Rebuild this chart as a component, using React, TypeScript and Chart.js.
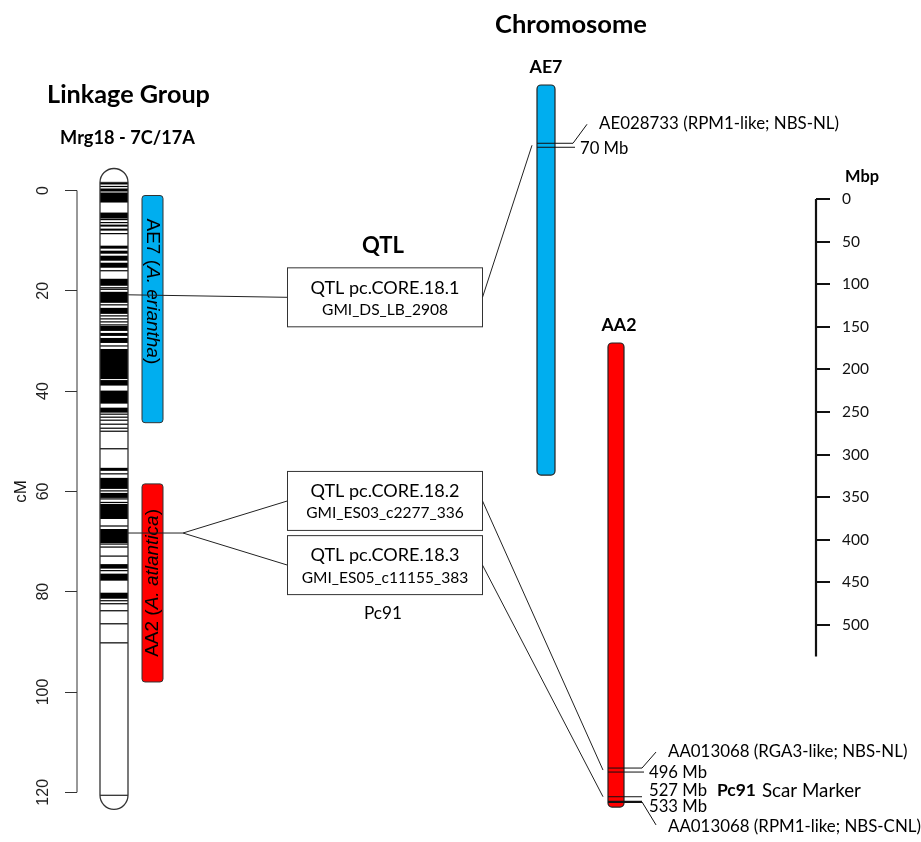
import React, { useEffect, useRef } from "react";
import { Chart, registerables } from "chart.js";
Chart.register(...registerables);

// ---------------- data ----------------
const CM_TICKS = [0, 20, 40, 60, 80, 100, 120];
const MBP_TICKS = [0, 50, 100, 150, 200, 250, 300, 350, 400, 450, 500];
const MBP_AXIS_END = 537;

const LG_TITLE = "Linkage Group";
const LG_NAME = "Mrg18 - 7C/17A";
const LG_RANGE = [-1.6, 120.6];
// dense marker blocks (cM start, cM end)
const LG_BANDS: [number, number][] = [
  [-1.6, -1.2], [-0.4, 0.2], [0.4, 2.4], [4.4, 5.6], [6.8, 7.2], [7.6, 8.0],
  [11.0, 11.6], [12.0, 12.6], [13.0, 14.0], [14.4, 15.4], [17.6, 19.0],
  [20.2, 22.4], [23.4, 24.6], [27.0, 28.0], [28.4, 29.0], [29.4, 30.4],
  [31.6, 37.6], [37.8, 38.9], [39.9, 42.5], [43.3, 44.3], [55.3, 55.9],
  [57.3, 59.5], [60.3, 61.3], [62.5, 65.5], [67.5, 70.3], [74.5, 75.4],
  [76.4, 77.8], [80.2, 81.4],
];
// single markers (cM)
const LG_LINES = [
  -0.8, 5.8, 6.4, 8.6, 16.0, 19.4, 19.7, 22.8, 25.0, 25.6, 26.2, 26.8, 31.0,
  44.6, 45.2, 45.8, 46.6, 47.4, 48.0, 51.5, 56.5, 59.9, 61.5, 62.2, 66.9,
  70.5, 71.1, 72.9, 75.8, 81.8, 82.4, 83.8, 86.4, 90.2,
];

const HOMEO_PREFIX = ["AE7 (", "AA2 ("];
const HOMEO_SPECIES = ["A. eriantha", "A. atlantica"];
const HOMEO_START = [1.0, 58.5];
const HOMEO_END = [46.3, 98.0];
const HOMEO_COLORS = ["#00AEEF", "#FF0000"];

const QTL_TITLE = "QTL";
const QTL_NAMES = ["QTL pc.CORE.18.1", "QTL pc.CORE.18.2", "QTL pc.CORE.18.3"];
const QTL_MARKERS = ["GMI_DS_LB_2908", "GMI_ES03_c2277_336", "GMI_ES05_c11155_383"];
const QTL_CM = [20.8, 68.3, 68.3];
const QTL_BOX_CM = [21.3, 61.9, 74.7];
const QTL_CHROM = [0, 1, 1];
const QTL_TARGET_MB = [70, 496, 527];
const QTL_NOTE = "Pc91";

const CHROM_TITLE = "Chromosome";
const CHROM_NAMES = ["AE7", "AA2"];
const CHROM_LEN_MB = [453, 539];
const CHROM_COLORS = ["#00AEEF", "#FF0000"];

const GENE_CHROM = [0, 1, 1, 1];
const GENE_MB = [70, 496, 527, 533];
const GENE_MB_LABELS = ["70 Mb", "496 Mb", "527 Mb", "533 Mb"];
const GENE_NAMES = [
  "AE028733 (RPM1-like; NBS-NL)",
  "AA013068 (RGA3-like; NBS-NL)",
  "",
  "AA013068 (RPM1-like; NBS-CNL)",
];
const SCAR_NAME = "Pc91";
const SCAR_TEXT = "Scar Marker";

// ---------------- layout ----------------
const W = 921;
const H = 842;
const CM_ZERO_PX = 190.5;
const CM_PX = 5.015;
const MB_ZERO_PX = 199;
const MB_PX = 0.852;
const CHROM_TOP_PX = [85, 343];
const CHROM_MB_PX = 0.861;
const CHROM_SCALES = ["yAE7", "yAA2"];

const LAYOUT = {
  lgX0: 100, lgX1: 128,
  homeoX0: 142, homeoX1: 163,
  forkX: 183,
  boxX0: 287.5, boxX1: 482.5, boxHcm: 11.76,
  chromX0: [537, 608], chromX1: [555, 624],
  geneStyle: ["double", "double", "single", "thick"],
  geneNameDy: [-22, -19, 0, 25],
  geneMbDy: [3, 3, -6, 5],
};

const CAL = "Lato, 'Open Sans', sans-serif";
const ARI = "'Liberation Sans', Arial, sans-serif";

function fitSize(ctx: any, s: string, w: number, bold: boolean, fam: string) {
  ctx.font = `${bold ? "bold " : ""}100px ${fam}`;
  return (100 * w) / ctx.measureText(s).width;
}
function txt(ctx: any, s: string, x: number, y: number, size: number, o: any = {}) {
  ctx.font = `${o.italic ? "italic " : ""}${o.bold ? "bold " : ""}${size}px ${o.fam || CAL}`;
  ctx.textAlign = o.align || "center";
  ctx.textBaseline = "middle";
  ctx.fillStyle = o.color || "#000";
  ctx.fillText(s, x, y);
  return ctx.measureText(s).width;
}
function runText(ctx: any, segs: any[], size: number, cx: number, cy: number, angle: number, centered: boolean) {
  ctx.save();
  ctx.translate(cx, cy);
  ctx.rotate(angle);
  ctx.textBaseline = "middle";
  ctx.textAlign = "left";
  ctx.fillStyle = "#000";
  let total = 0;
  for (const s of segs) {
    ctx.font = `${s.italic ? "italic " : ""}${size}px ${ARI}`;
    total += ctx.measureText(s.t).width;
  }
  let pos = centered ? -total / 2 : 0;
  for (const s of segs) {
    ctx.font = `${s.italic ? "italic " : ""}${size}px ${ARI}`;
    ctx.fillText(s.t, pos, 0);
    pos += ctx.measureText(s.t).width;
  }
  ctx.restore();
}
function line(ctx: any, x1: number, y1: number, x2: number, y2: number, w = 1, c = "#222") {
  ctx.beginPath();
  ctx.moveTo(x1, y1);
  ctx.lineTo(x2, y2);
  ctx.lineWidth = w;
  ctx.strokeStyle = c;
  ctx.stroke();
}

const diagramPlugin = {
  id: "diagram",
  afterDraw(chart: any) {
    const ctx = chart.ctx;
    const sx = chart.scales.x;
    const scm = chart.scales.y;
    const smb = chart.scales.y2;
    const X = (v: number) => sx.getPixelForValue(v);
    const Y = (v: number) => scm.getPixelForValue(v);
    const YM = (v: number) => smb.getPixelForValue(v);
    const YC = (i: number, v: number) => chart.scales[CHROM_SCALES[i]].getPixelForValue(v);
    ctx.save();

    // ---- linkage group bar ----
    const x0 = X(LAYOUT.lgX0), x1 = X(LAYOUT.lgX1);
    const r = (x1 - x0) / 2, cx = (x0 + x1) / 2;
    const yt = Y(LG_RANGE[0]), yb = Y(LG_RANGE[1]);
    const barPath = () => {
      ctx.beginPath();
      ctx.moveTo(x0, yt);
      ctx.arc(cx, yt, r, Math.PI, 0);
      ctx.lineTo(x1, yb);
      ctx.arc(cx, yb, r, 0, Math.PI);
      ctx.closePath();
    };
    barPath();
    ctx.fillStyle = "#fff";
    ctx.fill();
    ctx.fillStyle = "#000";
    for (const [a, b] of LG_BANDS) {
      const ya = Y(a), yb2 = Y(b);
      ctx.fillRect(x0, ya, x1 - x0, Math.max(1.2, yb2 - ya));
    }
    for (const v of LG_LINES) ctx.fillRect(x0, Y(v) - 0.6, x1 - x0, 1.2);
    barPath();
    ctx.lineWidth = 1.3;
    ctx.strokeStyle = "#333";
    ctx.stroke();
    line(ctx, x0, yt, x1, yt, 1.3, "#333");
    line(ctx, x0, yb, x1, yb, 1.3, "#333");

    // ---- homeologous chromosome blocks ----
    const hx0 = X(LAYOUT.homeoX0), hx1 = X(LAYOUT.homeoX1);
    for (let i = 0; i < HOMEO_START.length; i++) {
      const ya = Y(HOMEO_START[i]), yz = Y(HOMEO_END[i]);
      ctx.beginPath();
      ctx.roundRect(hx0, ya, hx1 - hx0, yz - ya, 3);
      ctx.fillStyle = HOMEO_COLORS[i];
      ctx.fill();
      ctx.lineWidth = 1;
      ctx.strokeStyle = "#333";
      ctx.stroke();
      const segs = [{ t: HOMEO_PREFIX[i] }, { t: HOMEO_SPECIES[i], italic: true }, { t: ")" }];
      if (i === 0) runText(ctx, segs, 19, (hx0 + hx1) / 2, ya + 23, Math.PI / 2, false);
      else runText(ctx, segs, 19, (hx0 + hx1) / 2, (ya + yz) / 2, -Math.PI / 2, true);
    }

    // ---- QTL connectors from linkage group ----
    const bx0 = X(LAYOUT.boxX0), bx1 = X(LAYOUT.boxX1), fx = X(LAYOUT.forkX);
    const done: number[] = [];
    for (let i = 0; i < QTL_CM.length; i++) {
      const same = QTL_CM.map((v, k) => (v === QTL_CM[i] ? k : -1)).filter((k) => k >= 0);
      if (done.includes(QTL_CM[i])) continue;
      done.push(QTL_CM[i]);
      const y = Y(QTL_CM[i]);
      if (same.length === 1) {
        line(ctx, x1, y, bx0, Y(QTL_BOX_CM[i]));
      } else {
        line(ctx, x1, y, fx, y);
        for (const k of same) line(ctx, fx, y, bx0, Y(QTL_BOX_CM[k]));
      }
    }

    // ---- QTL boxes ----
    const s1 = fitSize(ctx, QTL_NAMES[0], 149, false, CAL);
    const s2 = fitSize(ctx, QTL_MARKERS[0], 126, false, CAL);
    const bcx = (bx0 + bx1) / 2;
    for (let i = 0; i < QTL_NAMES.length; i++) {
      const yc = Y(QTL_BOX_CM[i]);
      const ya = Y(QTL_BOX_CM[i] - LAYOUT.boxHcm / 2), yz = Y(QTL_BOX_CM[i] + LAYOUT.boxHcm / 2);
      ctx.fillStyle = "#fff";
      ctx.fillRect(bx0, ya, bx1 - bx0, yz - ya);
      ctx.lineWidth = 1;
      ctx.strokeStyle = "#333";
      ctx.strokeRect(bx0, ya, bx1 - bx0, yz - ya);
      txt(ctx, QTL_NAMES[i], bcx, yc - 9.5, s1);
      txt(ctx, QTL_MARKERS[i], bcx, yc + 12.5, s2);
      // connector to chromosome
      const c = QTL_CHROM[i];
      line(ctx, bx1, yc, X(LAYOUT.chromX0[c]) - 5, YC(c, QTL_TARGET_MB[i]));
    }
    const lastBottom = Y(QTL_BOX_CM[2] + LAYOUT.boxHcm / 2);
    txt(ctx, QTL_NOTE, bcx - 2, lastBottom + 19, fitSize(ctx, QTL_NOTE, 38, false, CAL));
    txt(ctx, QTL_TITLE, bcx - 2, Y(QTL_BOX_CM[0] - LAYOUT.boxHcm / 2) - 22, fitSize(ctx, QTL_TITLE, 42, true, CAL), { bold: true });

    // ---- chromosomes ----
    const cs = fitSize(ctx, "AA2", 35, true, CAL);
    for (let c = 0; c < CHROM_NAMES.length; c++) {
      const cx0 = X(LAYOUT.chromX0[c]), cx1 = X(LAYOUT.chromX1[c]);
      const ya = YC(c, 0), yz = YC(c, CHROM_LEN_MB[c]);
      ctx.beginPath();
      ctx.roundRect(cx0, ya, cx1 - cx0, yz - ya, 4);
      ctx.fillStyle = CHROM_COLORS[c];
      ctx.fill();
      ctx.lineWidth = 1.2;
      ctx.strokeStyle = "#222";
      ctx.stroke();
      txt(ctx, CHROM_NAMES[c], (cx0 + cx1) / 2 + (c === 1 ? 3 : 0), ya - 18, cs, { bold: true });
    }

    // ---- gene markers ----
    const gs = fitSize(ctx, GENE_NAMES[0], 240, false, CAL);
    const ms = fitSize(ctx, GENE_MB_LABELS[1], 58, false, CAL);
    const ps = fitSize(ctx, SCAR_NAME, 39, true, CAL);
    const ss = fitSize(ctx, SCAR_TEXT, 99, false, CAL);
    for (let g = 0; g < GENE_MB.length; g++) {
      const c = GENE_CHROM[g];
      const cx0 = X(LAYOUT.chromX0[c]), cx1 = X(LAYOUT.chromX1[c]);
      const y = YC(c, GENE_MB[g]);
      const xe = cx1 + 18;
      const st = LAYOUT.geneStyle[g];
      if (st === "double") {
        line(ctx, cx0, y - 2, xe, y - 2, 1, "#111");
        line(ctx, cx0, y + 2, xe + 2, y + 2, 1, "#111");
      } else {
        line(ctx, cx0, y, xe, y, st === "thick" ? 2.2 : 1, "#111");
      }
      const dy = LAYOUT.geneNameDy[g];
      if (GENE_NAMES[g]) {
        const ly = y + (dy < 0 ? -2 : 0);
        line(ctx, xe, ly, xe + 14, y + dy + (dy < 0 ? 1 : -2), 1, "#111");
        txt(ctx, GENE_NAMES[g], cx1 + 44, y + dy, gs, { align: "left" });
      }
      const my = y + LAYOUT.geneMbDy[g];
      const mw = txt(ctx, GENE_MB_LABELS[g], cx1 + 25, my, ms, { align: "left" });
      if (!GENE_NAMES[g]) {
        const px = cx1 + 25 + mw + 10;
        const pw = txt(ctx, SCAR_NAME, px, my, ps, { align: "left", bold: true });
        txt(ctx, SCAR_TEXT, px + pw + 6, my, ss, { align: "left" });
      }
    }

    // ---- axes lines ----
    line(ctx, scm.right, Y(CM_TICKS[0]), scm.right, Y(CM_TICKS[CM_TICKS.length - 1]), 1, "#333");
    line(ctx, smb.left, YM(0), smb.left, YM(MBP_AXIS_END), 2.2, "#111");

    // ---- titles ----
    txt(ctx, LG_TITLE, 128.5, 95, fitSize(ctx, LG_TITLE, 163, true, CAL), { bold: true });
    txt(ctx, LG_NAME, 127.5, 138, fitSize(ctx, LG_NAME, 135, true, CAL), { bold: true });
    txt(ctx, CHROM_TITLE, 571, 25, fitSize(ctx, CHROM_TITLE, 152, true, CAL), { bold: true });
    txt(ctx, "Mbp", smb.left + 46, 177, fitSize(ctx, "Mbp", 34, true, CAL), { bold: true });
    ctx.save();
    ctx.translate(21, Y(60));
    ctx.rotate(-Math.PI / 2);
    txt(ctx, "cM", 0, 0, 17, { fam: ARI, color: "#111" });
    ctx.restore();

    ctx.restore();
  },
};

export default function App() {
  const ref = useRef<HTMLCanvasElement>(null);
  useEffect(() => {
    const canvas = ref.current as HTMLCanvasElement;
    const chromScale = (i: number) => ({
      type: "linear",
      axis: "y",
      position: "left",
      display: false,
      reverse: true,
      min: -CHROM_TOP_PX[i] / CHROM_MB_PX,
      max: (H - CHROM_TOP_PX[i]) / CHROM_MB_PX,
    });
    const chart = new Chart(canvas, {
      type: "scatter",
      data: { datasets: [] },
      options: {
        responsive: false,
        animation: false,
        devicePixelRatio: 1,
        events: [],
        layout: { padding: 0 },
        plugins: { legend: { display: false }, tooltip: { enabled: false }, title: { display: false } },
        scales: {
          x: { type: "linear", display: false, min: 77, max: 816 },
          y: {
            type: "linear",
            position: "left",
            reverse: true,
            min: -CM_ZERO_PX / CM_PX,
            max: (H - CM_ZERO_PX) / CM_PX,
            afterBuildTicks: (s: any) => {
              s.ticks = CM_TICKS.map((v) => ({ value: v }));
            },
            afterFit: (s: any) => {
              s.width = 77;
              s.paddingTop = 0;
              s.paddingBottom = 0;
            },
            border: { display: false },
            grid: { drawOnChartArea: false, drawTicks: true, tickLength: 12, color: "#333", lineWidth: 1 },
            ticks: {
              font: { family: ARI, size: 16 },
              color: "#222",
              minRotation: 90,
              maxRotation: 90,
              crossAlign: "center",
              padding: 8,
              autoSkip: false,
            },
          },
          y2: {
            type: "linear",
            position: "right",
            reverse: true,
            min: -MB_ZERO_PX / MB_PX,
            max: (H - MB_ZERO_PX) / MB_PX,
            afterBuildTicks: (s: any) => {
              s.ticks = MBP_TICKS.map((v) => ({ value: v }));
            },
            afterFit: (s: any) => {
              s.width = W - 816;
              s.paddingTop = 0;
              s.paddingBottom = 0;
            },
            border: { display: false },
            grid: { drawOnChartArea: false, drawTicks: true, tickLength: 14, color: "#111", lineWidth: 2 },
            ticks: { font: { family: CAL, size: 15.5 }, color: "#111", padding: 12, autoSkip: false },
          },
          yAE7: chromScale(0),
          yAA2: chromScale(1),
        },
      } as any,
      plugins: [diagramPlugin],
    } as any);
    return () => chart.destroy();
  }, []);
  return (
    <div style={{ position: "absolute", left: 0, top: 0, width: W, height: H, background: "#fff" }}>
      <canvas ref={ref} width={W} height={H} style={{ display: "block", width: W, height: H }} />
    </div>
  );
}
